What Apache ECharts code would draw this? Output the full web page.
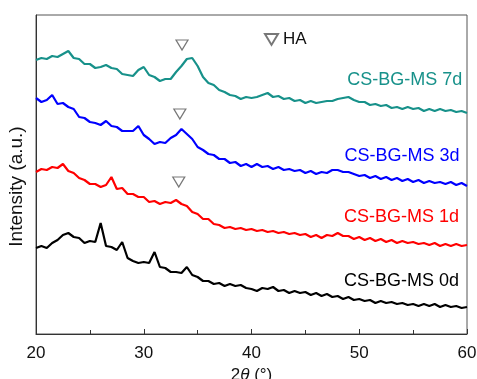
<!DOCTYPE html>
<html>
<head>
<meta charset="utf-8">
<script src="https://cdn.jsdelivr.net/npm/echarts@6/dist/echarts.min.js"></script>
<style>
  html, body { margin: 0; padding: 0; background: #fff; }
  #chart { width: 477px; height: 379px; }
</style>
</head>
<body>
<div id="chart"></div>
<script>
// 2theta grid (deg), intensity (a.u., stacked offsets kept)
const twoTheta = [];
for (let i = 0; i <= 80; i++) twoTheta.push(20 + i * 0.5);

const int7d = [274, 276, 275, 278, 277, 280, 283, 276, 275, 270, 270, 266, 267, 269, 266, 265, 260, 259, 258, 264,
  267, 259, 257, 253, 255, 255, 262, 268, 275, 276, 268, 257, 251, 249, 244, 242, 239, 238, 235, 237,
  236, 237, 239, 241, 237, 238, 235, 236, 233, 234, 231, 233, 231, 232, 233, 233, 235, 236, 237, 234,
  232, 232, 229, 230, 228, 229, 226, 227, 225, 227, 225, 226, 223, 225, 223, 225, 223, 224, 222, 223, 221];
const int3d = [236, 232, 234, 239, 230, 231, 227, 225, 217, 216, 212, 211, 209, 213, 208, 207, 203, 203, 203, 208,
  199, 195, 190, 192, 191, 196, 199, 205, 200, 195, 187, 184, 180, 179, 175, 175, 171, 172, 168, 170,
  167, 170, 167, 168, 165, 167, 164, 165, 163, 164, 161, 163, 160, 162, 161, 164, 164, 162, 162, 160,
  158, 159, 156, 158, 155, 157, 154, 156, 153, 155, 152, 154, 151, 153, 151, 152, 150, 152, 149, 151, 148];
const int1d = [162, 165, 164, 167, 166, 170, 163, 161, 156, 154, 150, 150, 147, 149, 157, 145, 146, 140, 140, 137,
  137, 132, 133, 130, 132, 131, 134, 130, 128, 122, 120, 115, 115, 110, 109, 106, 107, 105, 106, 104,
  105, 103, 104, 102, 103, 101, 102, 100, 101, 99, 100, 97, 99, 96, 99, 98, 101, 98, 98, 95,
  97, 94, 96, 93, 95, 92, 94, 91, 93, 91, 92, 90, 91, 89, 91, 88, 90, 88, 90, 88, 89];
const int0d = [86, 88, 86, 91, 94, 99, 101, 97, 96, 91, 93, 92, 111, 88, 87, 84, 92, 76, 73, 71,
  72, 71, 82, 67, 66, 62, 62, 61, 67, 59, 57, 53, 53, 50, 51, 48, 50, 48, 49, 46,
  45, 43, 46, 45, 47, 43, 44, 41, 43, 41, 42, 39, 41, 38, 40, 37, 38, 35, 37, 34,
  35, 33, 34, 31, 33, 31, 32, 30, 31, 29, 30, 28, 30, 28, 30, 27, 29, 27, 28, 26, 27];

const seriesNames = ['CS-BG-MS 7d', 'CS-BG-MS 3d', 'CS-BG-MS 1d', 'CS-BG-MS 0d'];
const seriesColors = ['#17918a', '#0000ff', '#ff0000', '#000000'];
const seriesData = [int7d, int3d, int1d, int0d];
// right end of each name (2theta, intensity)
const labelPos = [[59.6, 254], [59.35, 178], [59.3, 117], [59.3, 53]];

// HA reflection markers
const haTheta = [33.55, 33.35, 33.25];
const haInt = [289, 220, 152];

const triPath = 'path://M0,0 L12,0 L6,10 Z';
const font = 'Liberation Sans, Arial, sans-serif';

const chart = echarts.init(document.getElementById('chart'));

const lines = seriesData.map((vals, k) => ({
  name: seriesNames[k],
  type: 'line',
  data: twoTheta.map((x, i) => [x, vals[i]]),
  showSymbol: false,
  lineStyle: { color: seriesColors[k], width: 2.2 },
  z: 2,
  markPoint: {
    symbol: 'circle',
    symbolSize: 1,
    itemStyle: { color: 'rgba(0,0,0,0)' },
    label: {
      show: true,
      position: 'left',
      distance: 0,
      formatter: seriesNames[k],
      color: seriesColors[k],
      fontSize: 18,
      fontFamily: font
    },
    data: [{ coord: labelPos[k] }]
  }
}));

const option = {
  animation: false,
  backgroundColor: '#fff',
  textStyle: { fontFamily: font },
  grid: {
    left: 36, top: 15, right: 10, bottom: 45,
    outerBoundsMode: 'none',
    containLabel: false,
    show: true, borderColor: '#555', borderWidth: 1
  },
  legend: {
    data: [{ name: 'HA', icon: triPath }],
    left: 259, top: 26,
    itemWidth: 13, itemHeight: 11, itemGap: 8,
    textStyle: { fontSize: 17, color: '#111' }
  },
  xAxis: {
    type: 'value',
    min: 20, max: 60, interval: 10,
    name: '2{i|θ} (°)',
    nameLocation: 'middle',
    nameGap: 30,
    nameTextStyle: {
      fontSize: 17, color: '#111',
      rich: { i: { fontStyle: 'italic', fontSize: 17, color: '#111' } }
    },
    axisLine: { lineStyle: { color: '#333' } },
    axisTick: { inside: true, length: 5, lineStyle: { color: '#333' } },
    minorTick: { show: true, splitNumber: 2, length: 4, lineStyle: { color: '#333' } },
    axisLabel: { fontSize: 17, color: '#111', margin: 11 },
    splitLine: { show: false }
  },
  yAxis: {
    type: 'value',
    min: 0, max: 319,
    name: 'Intensity (a.u.)',
    nameLocation: 'middle',
    nameGap: 10,
    nameTextStyle: { fontSize: 19, color: '#111', padding: [0, 24, 0, 0] },
    axisLine: { show: true, lineStyle: { color: '#333' } },
    axisTick: { show: false },
    axisLabel: { show: false },
    splitLine: { show: false }
  },
  series: lines.concat([{
    name: 'HA',
    type: 'scatter',
    data: haTheta.map((x, i) => [x, haInt[i]]),
    symbol: triPath,
    symbolSize: [12, 10],
    itemStyle: { color: '#fff', borderColor: '#555', borderWidth: 1.2 },
    z: 3
  }])
};

chart.setOption(option);
</script>
</body>
</html>
